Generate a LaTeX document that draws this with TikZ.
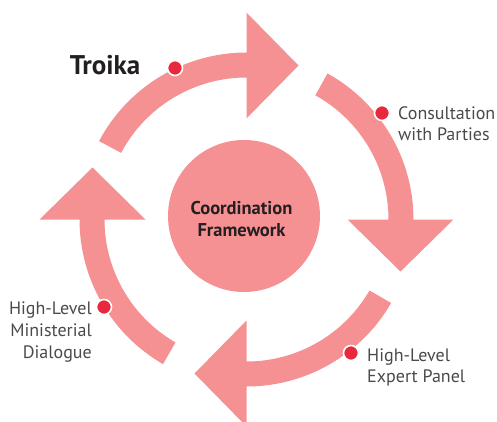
\documentclass[tikz,border=0pt]{standalone}
\usepackage{fontspec}
\setmainfont{PT Sans}
\usetikzlibrary{positioning}
\definecolor{ringpink}{HTML}{F59193}
\definecolor{dotred}{HTML}{E8283D}
\definecolor{labelgray}{HTML}{4A4A4A}
\definecolor{darktext}{HTML}{231F20}
\tikzset{
  ring/.style={fill=ringpink,draw=none},
  stage dot/.style={circle,fill=dotred,draw=white,line width=1.6pt,minimum size=15pt,inner sep=0pt},
  stage label/.style={text=labelgray,font=\fontsize{18}{21.6}\selectfont,inner sep=0pt},
}
\begin{document}
\begin{tikzpicture}[x=1pt,y=1pt]
\useasboundingbox (0,0) rectangle (497,421);
\coordinate (c) at (246.5,201.5);

% four arrows round the ring
\fill[ring] ([shift={(152:167)}]c) arc[start angle=152,end angle=90,radius=167]
  -- ([shift={(90:207)}]c) -- ([shift={(90:154)},shift={(0:52)}]c) -- ([shift={(90:101)}]c)
  -- ([shift={(90:142)}]c) arc[start angle=90,end angle=152,radius=142] -- cycle;
\fill[ring] ([shift={(61:167)}]c) arc[start angle=61,end angle=0,radius=167]
  -- ([shift={(0:207)}]c) -- ([shift={(0:154)},shift={(-90:52)}]c) -- ([shift={(0:101)}]c)
  -- ([shift={(0:142)}]c) arc[start angle=0,end angle=61,radius=142] -- cycle;
\fill[ring] ([shift={(-30:167)}]c) arc[start angle=-30,end angle=-90,radius=167]
  -- ([shift={(-90:207)}]c) -- ([shift={(-90:154)},shift={(180:52)}]c) -- ([shift={(-90:101)}]c)
  -- ([shift={(-90:142)}]c) arc[start angle=-90,end angle=-30,radius=142] -- cycle;
\fill[ring] ([shift={(240:167)}]c) arc[start angle=240,end angle=180,radius=167]
  -- ([shift={(180:207)}]c) -- ([shift={(180:154)},shift={(90:52)}]c) -- ([shift={(180:101)}]c)
  -- ([shift={(180:142)}]c) arc[start angle=180,end angle=240,radius=142] -- cycle;

\node[circle,fill=ringpink,minimum size=152pt,inner sep=0pt] (hub) at (244,205) {};
\node[align=center,inner sep=0pt,text=darktext,font=\bfseries\fontsize{18.5}{21.6}\selectfont]
  (hubtext) at (241.5,202) {Coordination\\Framework};

% stage dots and labels
\node[stage dot] (troika) at (175,353) {};
\node[stage dot] (consult) at (382,308) {};
\node[stage dot] (expert) at (351,68) {};
\node[stage dot] (minister) at (104,114) {};

\node[anchor=base,inner sep=0pt,text=darktext,font=\bfseries\fontsize{27}{30}\selectfont] (troikalabel) at (105,346) {Troika};
\node[stage label,align=left,anchor=base west] (consultlabel) at (398,280.3) {Consultation\\with Parties};
\node[stage label,align=left,anchor=base west] (expertlabel) at (367,38.3) {High-Level\\Expert Panel};
\node[stage label,align=right,anchor=base east] (ministerlabel) at (92,63) {High-Level\\Ministerial\\Dialogue};
\end{tikzpicture}
\end{document}
